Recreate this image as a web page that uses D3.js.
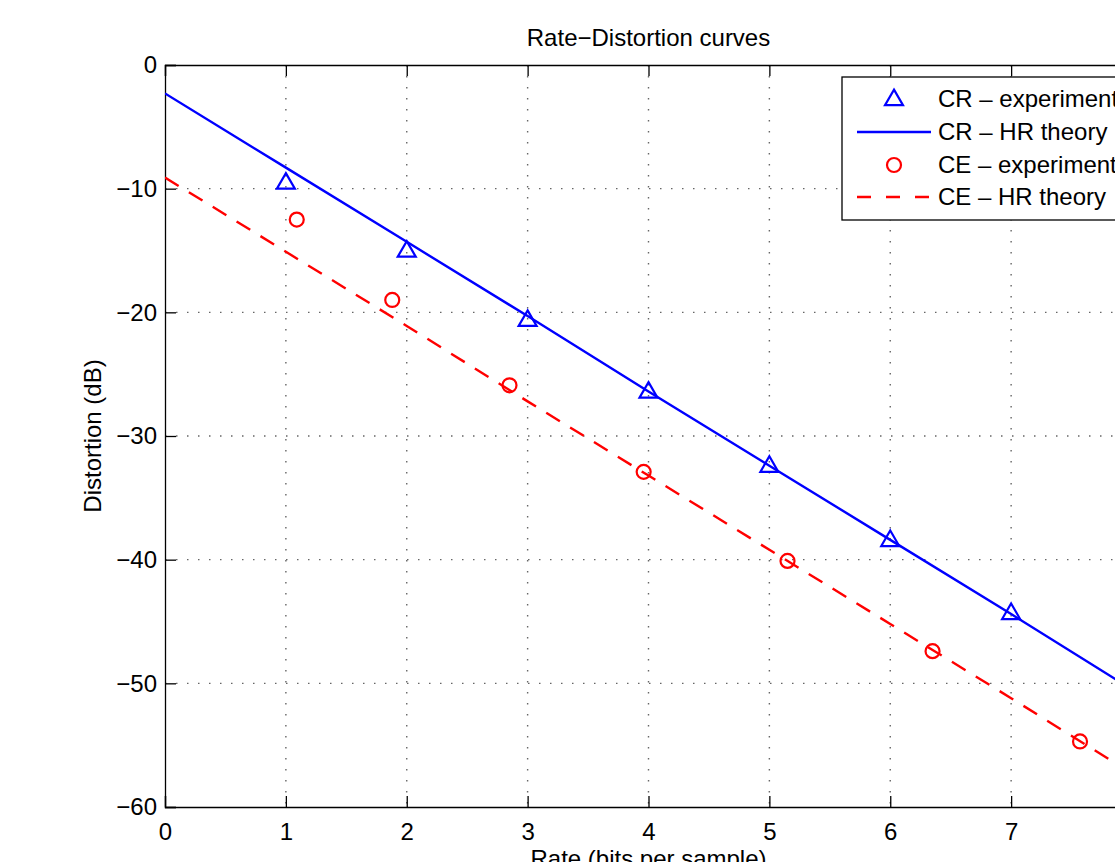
<!DOCTYPE html>
<html>
<head>
<meta charset="utf-8">
<script src="https://cdn.jsdelivr.net/npm/d3@7"></script>
<style>
  body { margin: 0; background: #fff; overflow: hidden; }
  svg { display: block; font-family: "Liberation Sans", Arial, sans-serif; }
</style>
</head>
<body>
<div id="chart"></div>
<script>
// tick labels
var xTicks = [0, 1, 2, 3, 4, 5, 6, 7, 8];
var yTicks = [0, -10, -20, -30, -40, -50, -60];

// CR - experiment (triangles)
var crRate = [1, 2, 3, 4, 5, 6, 7];
var crDist = [-9.5, -15.0, -20.6, -26.4, -32.4, -38.4, -44.3];

// CR - HR theory (solid line)
var crTheoryRate = [0, 1, 2, 3, 4, 5, 6, 7, 8];
var crTheoryDist = [-2.3, -8.3, -14.3, -20.3, -26.4, -32.4, -38.4, -44.4, -50.5];

// CE - experiment (circles)
var ceRate = [1.09, 1.88, 2.85, 3.96, 5.15, 6.35, 7.57];
var ceDist = [-12.5, -19.0, -25.9, -32.9, -40.1, -47.4, -54.7];

// CE - HR theory (dashed line)
var ceTheoryRate = [0, 1, 2, 3, 4, 5, 6, 7, 8];
var ceTheoryDist = [-9.1, -15.1, -21.1, -27.2, -33.2, -39.2, -45.2, -51.2, -57.3];

var legendLabels = ["CR \u2013 experiment", "CR \u2013 HR theory", "CE \u2013 experiment", "CE \u2013 HR theory"];

var W = 1115, H = 862;
var mLeft = 165, mTop = 65, mRight = 1132, mBottom = 807;
var fontSize = 24;

var svg = d3.select("#chart").append("svg")
  .attr("width", W)
  .attr("height", H);

var x = d3.scaleLinear().domain([0, 8]).range([mLeft, mRight]);
var y = d3.scaleLinear().domain([-60, 0]).range([mBottom, mTop]);

//grid
svg.append("g").selectAll("line")
  .data(xTicks.slice(1, -1))
  .enter().append("line")
  .attr("x1", function(d) { return x(d); })
  .attr("x2", function(d) { return x(d); })
  .attr("y1", mTop).attr("y2", mBottom)
  .attr("stroke", "#666").attr("stroke-width", 1.4)
  .attr("stroke-dasharray", "1.5,9.5");

svg.append("g").selectAll("line")
  .data(yTicks.slice(1, -1))
  .enter().append("line")
  .attr("y1", function(d) { return y(d); })
  .attr("y2", function(d) { return y(d); })
  .attr("x1", mLeft).attr("x2", mRight)
  .attr("stroke", "#666").attr("stroke-width", 1.4)
  .attr("stroke-dasharray", "1.5,9.5");

//axes (ticks inside, on all sides)
var tickLen = 11;
var xAxisB = d3.axisBottom(x).tickValues(xTicks).tickSize(-tickLen).tickPadding(16);
var xAxisT = d3.axisTop(x).tickValues(xTicks).tickSize(-tickLen).tickFormat("");
var yAxisL = d3.axisLeft(y).tickValues(yTicks).tickSize(-tickLen).tickPadding(8)
  .tickFormat(function(d) { return d < 0 ? "\u2212" + Math.abs(d) : d; });
var yAxisR = d3.axisRight(y).tickValues(yTicks).tickSize(-tickLen).tickFormat("");

function styleAxis(g) {
  g.select(".domain").attr("stroke", "#000").attr("stroke-width", 1.3);
  g.selectAll(".tick line").attr("stroke", "#000").attr("stroke-width", 1.3);
  g.selectAll(".tick text").attr("fill", "#000").attr("font-size", fontSize)
    .attr("font-family", "Liberation Sans, Arial, sans-serif");
}

svg.append("g").attr("transform", "translate(0," + mBottom + ")").call(xAxisB).call(styleAxis);
svg.append("g").attr("transform", "translate(0," + mTop + ")").call(xAxisT).call(styleAxis);
svg.append("g").attr("transform", "translate(" + mLeft + ",0)").call(yAxisL).call(styleAxis);
svg.append("g").attr("transform", "translate(" + mRight + ",0)").call(yAxisR).call(styleAxis);

//theory lines
var line = d3.line()
  .x(function(d) { return x(d[0]); })
  .y(function(d) { return y(d[1]); });

svg.append("clipPath").attr("id", "plotClip")
  .append("rect").attr("x", mLeft).attr("y", mTop)
  .attr("width", mRight - mLeft).attr("height", mBottom - mTop);

var plot = svg.append("g").attr("clip-path", "url(#plotClip)");

plot.append("path")
  .datum(d3.zip(crTheoryRate, crTheoryDist))
  .attr("d", line)
  .attr("fill", "none").attr("stroke", "#0000ff").attr("stroke-width", 2.4);

plot.append("path")
  .datum(d3.zip(ceTheoryRate, ceTheoryDist))
  .attr("d", line)
  .attr("fill", "none").attr("stroke", "#ff0000").attr("stroke-width", 2.4)
  .attr("stroke-dasharray", "16,12");

//markers
var tri = d3.symbol().type(d3.symbolTriangle).size(140);

plot.selectAll(".tri")
  .data(d3.zip(crRate, crDist))
  .enter().append("path")
  .attr("class", "tri")
  .attr("d", tri)
  .attr("transform", function(d) { return "translate(" + x(d[0]) + "," + (y(d[1]) + 1) + ")"; })
  .attr("fill", "none").attr("stroke", "#0000ff").attr("stroke-width", 2.2);

plot.selectAll(".circ")
  .data(d3.zip(ceRate, ceDist))
  .enter().append("circle")
  .attr("class", "circ")
  .attr("cx", function(d) { return x(d[0]); })
  .attr("cy", function(d) { return y(d[1]); })
  .attr("r", 7)
  .attr("fill", "none").attr("stroke", "#ff0000").attr("stroke-width", 2.2);

//legend
var lg = svg.append("g").attr("transform", "translate(842,77)");
lg.append("rect").attr("x", 0).attr("y", 0).attr("width", 280).attr("height", 143)
  .attr("fill", "#fff").attr("stroke", "#000").attr("stroke-width", 1.3);

var rowY = [22, 55, 88, 120];
lg.selectAll("text")
  .data(legendLabels)
  .enter().append("text")
  .attr("x", 96)
  .attr("y", function(d, i) { return rowY[i]; })
  .attr("dy", "0.35em")
  .attr("font-size", fontSize)
  .attr("fill", "#000")
  .text(function(d) { return d; });

lg.append("path").attr("d", tri)
  .attr("transform", "translate(52," + (rowY[0] + 1) + ")")
  .attr("fill", "none").attr("stroke", "#0000ff").attr("stroke-width", 2.2);
lg.append("line").attr("x1", 15).attr("x2", 89).attr("y1", rowY[1]).attr("y2", rowY[1])
  .attr("stroke", "#0000ff").attr("stroke-width", 2.4);
lg.append("circle").attr("cx", 52).attr("cy", rowY[2]).attr("r", 7)
  .attr("fill", "none").attr("stroke", "#ff0000").attr("stroke-width", 2.2);
lg.append("line").attr("x1", 15).attr("x2", 89).attr("y1", rowY[3]).attr("y2", rowY[3])
  .attr("stroke", "#ff0000").attr("stroke-width", 2.4)
  .attr("stroke-dasharray", "14,15");

//title and labels
svg.append("text")
  .attr("x", (mLeft + mRight) / 2).attr("y", 38)
  .attr("dy", "0.35em")
  .attr("text-anchor", "middle").attr("font-size", fontSize)
  .text("Rate\u2212Distortion curves");

svg.append("text")
  .attr("transform", "translate(93," + (mTop + mBottom) / 2 + ") rotate(-90)")
  .attr("dy", "0.35em")
  .attr("text-anchor", "middle").attr("font-size", fontSize)
  .text("Distortion (dB)");

svg.append("text")
  .attr("x", (mLeft + mRight) / 2).attr("y", 867)
  .attr("text-anchor", "middle").attr("font-size", fontSize)
  .text("Rate (bits per sample)");
</script>
</body>
</html>
